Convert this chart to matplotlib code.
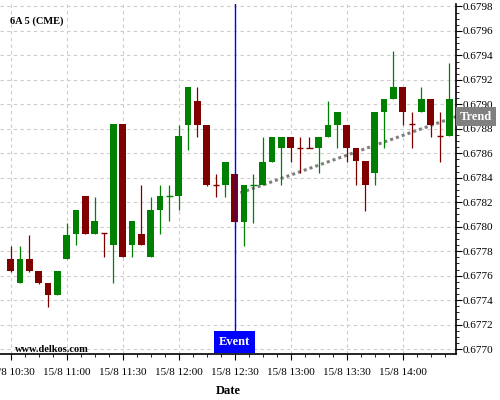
import numpy as np
import pandas as pd
import matplotlib
matplotlib.use("Agg")
import matplotlib.pyplot as plt
import matplotlib.dates as mdates
import matplotlib.ticker as mticker
import matplotlib.transforms as mtransforms

# 5 minute candles of 6A (CME), 15/8 from 10:30 to 14:25
times = pd.date_range("2015-08-15 10:30", periods=48, freq="5min")

opens = [0.67774, 0.67754, 0.67774, 0.67764, 0.67754, 0.67744, 0.67774, 0.67794,
         0.67825, 0.67794, 0.67795, 0.67785, 0.67884, 0.67785, 0.67794, 0.67775,
         0.67814, 0.67825, 0.67825, 0.67883, 0.67903, 0.67883, 0.67834, 0.67834,
         0.67843, 0.67804, 0.67834, 0.67834, 0.67853, 0.67864, 0.67873, 0.67864,
         0.67864, 0.67864, 0.67873, 0.67883, 0.67883, 0.67864, 0.67854, 0.67844,
         0.67894, 0.67904, 0.67914, 0.67884, 0.67894, 0.67904, 0.67874, 0.67874]
highs = [0.67784, 0.67784, 0.67793, 0.67764, 0.67754, 0.67764, 0.67803, 0.67814,
         0.67825, 0.67824, 0.67795, 0.67884, 0.67884, 0.67805, 0.67834, 0.67824,
         0.67834, 0.67834, 0.67883, 0.67914, 0.67914, 0.67883, 0.67843, 0.67853,
         0.67843, 0.67834, 0.67843, 0.67873, 0.67873, 0.67873, 0.67873, 0.67873,
         0.67873, 0.67873, 0.67903, 0.67894, 0.67883, 0.67864, 0.67854, 0.67894,
         0.67904, 0.67944, 0.67914, 0.67894, 0.67914, 0.67904, 0.67894, 0.67934]
lows = [0.67763, 0.67754, 0.67763, 0.67753, 0.67734, 0.67744, 0.67774, 0.67785,
        0.67794, 0.67794, 0.67775, 0.67754, 0.67775, 0.67775, 0.67785, 0.67775,
        0.67794, 0.67805, 0.67814, 0.67863, 0.67873, 0.67833, 0.67824, 0.67824,
        0.67804, 0.67784, 0.67803, 0.67834, 0.67853, 0.67834, 0.67853, 0.67844,
        0.67864, 0.67844, 0.67873, 0.67864, 0.67853, 0.67834, 0.67813, 0.67834,
        0.67864, 0.67904, 0.67883, 0.67864, 0.67894, 0.67873, 0.67853, 0.67874]
closes = [0.67764, 0.67774, 0.67764, 0.67754, 0.67744, 0.67764, 0.67793, 0.67814,
          0.67794, 0.67805, 0.67795, 0.67884, 0.67775, 0.67805, 0.67785, 0.67814,
          0.67825, 0.67825, 0.67874, 0.67914, 0.67883, 0.67834, 0.67834, 0.67853,
          0.67804, 0.67834, 0.67834, 0.67853, 0.67873, 0.67873, 0.67864, 0.67864,
          0.67864, 0.67873, 0.67883, 0.67894, 0.67864, 0.67854, 0.67834, 0.67894,
          0.67904, 0.67914, 0.67894, 0.67884, 0.67904, 0.67883, 0.67874, 0.67904]
# dojis (open == close) keep the colour of the candle
doji_up = [False] * 48
doji_up[17] = True
doji_up[26] = True

event_time = pd.Timestamp("2015-08-15 12:30")
trend_start = 0.67826
trend_end = 0.67890

UP = "#008000"
DOWN = "#800000"
SERIF = "Liberation Serif"

fig = plt.figure(figsize=(5, 4), dpi=100)
ax = fig.add_axes([0.0, 0.115, 0.912, 0.875])

x = mdates.date2num(times)
step = x[1] - x[0]
width = 0.72 * step

for i in range(len(x)):
    o, h, l, c = opens[i], highs[i], lows[i], closes[i]
    if c > o or (c == o and doji_up[i]):
        col = UP
    else:
        col = DOWN
    ax.vlines(x[i], l, h, color=col, lw=0.9, zorder=3)
    if abs(c - o) < 1e-7:
        ax.hlines(o, x[i] - width / 2, x[i] + width / 2, color=col, lw=1.0, zorder=3)
    else:
        ax.bar(x[i], abs(c - o), width, bottom=min(o, c), color=col, lw=0, zorder=4)

xmin = x[0] - 1.15 * step
xmax = x[0] + 47.73 * step
ev = mdates.date2num(event_time)

# trend line from the event to the right edge
ax.plot([ev, xmax], [trend_start, trend_end], color="#808080", lw=2.2,
        ls=(0, (1, 1)), zorder=2)

ax.axvline(ev, color="#0000ff", lw=1, zorder=6)

ax.set_xlim(xmin, xmax)
ax.set_ylim(0.67696, 0.67982)

# axes look
for s in ["left", "top"]:
    ax.spines[s].set_visible(False)
ax.spines["right"].set_linewidth(1.2)
ax.spines["bottom"].set_linewidth(1.2)

ax.yaxis.tick_right()
ax.yaxis.set_major_locator(mticker.MultipleLocator(0.0002))
ax.yaxis.set_minor_locator(mticker.MultipleLocator(0.00005))
ax.yaxis.set_major_formatter(mticker.FormatStrFormatter("%.4f"))

ax.xaxis.set_major_locator(mdates.MinuteLocator(byminute=[0, 30]))
ax.xaxis.set_minor_locator(mticker.MultipleLocator(7.5 / 1440))

def fmt_date(v, pos):
    d = mdates.num2date(v)
    return "%d/%d %s" % (d.day, d.month, d.strftime("%H:%M"))

ax.xaxis.set_major_formatter(mticker.FuncFormatter(fmt_date))

ax.tick_params(which="major", length=4, width=0.8, labelsize=8)
ax.tick_params(which="minor", length=2, width=0.6)
for lab in ax.get_xticklabels() + ax.get_yticklabels():
    lab.set_family(SERIF)
ax.tick_params(axis="x", pad=6)
ax.tick_params(axis="y", pad=1)

ax.grid(True, which="major", color="#cccccc", ls=(0, (3, 3)), lw=0.8)
ax.set_axisbelow(True)

ax.set_xlabel("Date", family=SERIF, fontweight="bold", fontsize=9, labelpad=6)

ax.text(0.022, 0.951, "6A 5 (CME)", transform=ax.transAxes, family=SERIF,
        fontweight="bold", fontsize=7.5, va="center", ha="left")
ax.text(0.033, 0.014, "www.delkos.com", transform=ax.transAxes, family=SERIF,
        fontweight="bold", fontsize=7.5, va="center", ha="left")

# Event marker box at the bottom
blend = mtransforms.blended_transform_factory(ax.transData, ax.transAxes)
ax.text(ev, 0.034, "Event", transform=blend, family=SERIF, fontweight="bold",
        fontsize=9, color="white", ha="center", va="center", zorder=7,
        bbox=dict(boxstyle="square,pad=0.4", fc="#0000ff", ec="none"))

# Trend label on the right axis
blend2 = mtransforms.blended_transform_factory(ax.transAxes, ax.transData)
ax.text(1.008, trend_end, "Trend", transform=blend2, family=SERIF,
        fontweight="bold", fontsize=9, color="white", ha="left", va="center",
        clip_on=False, zorder=7,
        bbox=dict(boxstyle="square,pad=0.3", fc="#808080", ec="none"))

fig.savefig("out.png", dpi=100)
